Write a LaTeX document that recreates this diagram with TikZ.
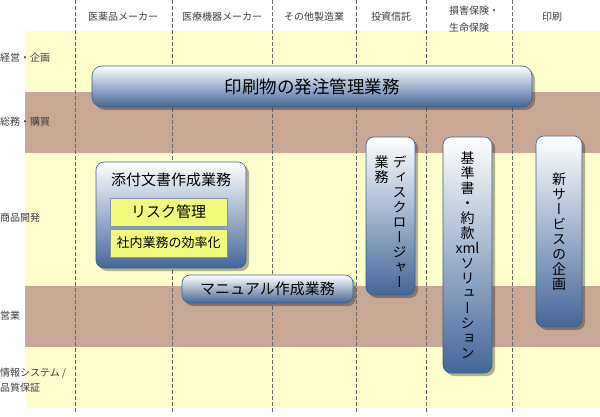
\documentclass[tikz,border=0pt]{standalone}
\usepackage{fontspec}
\setmainfont{Noto Sans CJK JP}
\newfontfamily\tatefont{Noto Sans CJK JP}[RawFeature=+vert]
\usetikzlibrary{shadows}
\definecolor{bandyellow}{HTML}{FFFFCC}
\definecolor{bandbrown}{HTML}{C9A795}
\definecolor{boxblue}{HTML}{43679A}
\definecolor{boxedge}{HTML}{3B5F8C}
\definecolor{tagyellow}{HTML}{F1FA7C}
\definecolor{tagedge}{HTML}{8393AC}
\definecolor{labelgray}{HTML}{3C3C3C}

\begin{document}
\begin{tikzpicture}[
    x=1pt, y=-1pt,
    task/.style={rectangle, rounded corners=8pt, draw=boxedge, semithick, top color=white, bottom color=boxblue, inner sep=0pt, drop shadow={shadow xshift=3pt, shadow yshift=-3pt, fill=black, opacity=0.3}},
    tag/.style={rectangle, draw=tagedge, fill=tagyellow, minimum width=117pt, minimum height=28pt, inner sep=0pt},
    tate/.style={align=center, font=\fontsize{14}{15}\selectfont\tatefont},
    colhead/.style={align=left, text=labelgray, font=\fontsize{10}{17}\selectfont},
    rowhead/.style={anchor=west, align=left, inner sep=0pt, text=labelgray, font=\fontsize{10}{15}\selectfont},
    divider/.style={gray!80!black, dash pattern=on 4pt off 2pt, thin}
]
    \useasboundingbox (0,0) rectangle (600,417);

    % bands
    \foreach \top/\bot/\col in {31/92/bandyellow, 92/153/bandbrown, 153/286/bandyellow, 286/347/bandbrown, 347/408/bandyellow}
        \fill[\col] (25,\top) rectangle (600,\bot);
    \foreach \x in {75,172,272,356,426,512}
        \draw[divider] (\x,0) -- (\x,413);

    % columns
    \node[colhead] (pharma) at (123,17) {医薬品メーカー};
    \node[colhead] (device) at (222,17) {医療機器メーカー};
    \node[colhead] (maker) at (314,17) {その他製造業};
    \node[colhead] (fund) at (391,17) {投資信託};
    \node[colhead] (insure) at (474,19) {損害保険・\\生命保険};
    \node[colhead] (print) at (552,17) {印刷};

    % rows
    \node[rowhead] (plan) at (0,58) {経営・企画};
    \node[rowhead] (admin) at (0,122) {総務・購買};
    \node[rowhead] (develop) at (0,218) {商品開発};
    \node[rowhead] (sales) at (0,316) {営業};
    \node[rowhead] (system) at (0,380) {情報システム /\\品質保証};

    % tasks
    \node[task, rounded corners=10pt, minimum width=440pt, minimum height=41pt, font=\fontsize{17.5}{20}\selectfont] (order) at (312,86.5) {印刷物の発注管理業務};

    \node[task, minimum width=150pt, minimum height=106pt] (tenpu) at (171,215) {};
    \node[font=\fontsize{15}{16}\selectfont] (tenpuTitle) at (171,180) {添付文書作成業務};
    \node[tag, font=\fontsize{15}{16}\selectfont] (risk) at (168.5,212) {リスク管理};
    \node[tag, font=\fontsize{13}{15}\selectfont] (shanai) at (168.5,243) {社内業務の効率化};

    \node[task, minimum width=171pt, minimum height=28pt, font=\fontsize{15}{16}\selectfont] (manual) at (267.5,289) {マニュアル作成業務};

    \node[task, minimum width=49pt, minimum height=158pt] (disclose) at (390.5,216) {};
    \node[tate, anchor=north, inner sep=0pt] (discloseText) at (390.5,156)
        {\parbox[t]{14pt}{\centering 業\\務}\hspace{4pt}\parbox[t]{14pt}{\centering デ\\ィ\\ス\\ク\\ロ\\ー\\ジ\\ャ\\ー}};
    \node[task, tate, minimum width=49pt, minimum height=236pt] (xmlsol) at (467.5,255)
        {基\\準\\書\\・\\約\\款\\\textrm{xml}\\ソ\\リ\\ュ\\ー\\シ\\ョ\\ン};
    \node[task, tate, minimum width=46pt, minimum height=191pt] (service) at (559,231.5)
        {新\\サ\\ー\\ビ\\ス\\の\\企\\画};
\end{tikzpicture}
\end{document}
